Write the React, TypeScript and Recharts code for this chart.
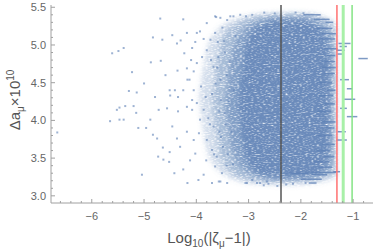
import React from 'react';
import {
  ComposedChart,
  Area,
  Scatter,
  XAxis,
  YAxis,
  ReferenceLine,
} from 'recharts';

// tick values
const xMajor = [-6, -5, -4, -3, -2, -1];
const xMinor = [
  -6.6, -6.4, -6.2, -5.8, -5.6, -5.4, -5.2, -4.8, -4.6, -4.4, -4.2, -3.8, -3.6,
  -3.4, -3.2, -2.8, -2.6, -2.4, -2.2, -1.8, -1.6, -1.4, -1.2, -0.8,
];
const yMajor = [3.0, 3.5, 4.0, 4.5, 5.0, 5.5];
const yMinor = [
  3.1, 3.2, 3.3, 3.4, 3.6, 3.7, 3.8, 3.9, 4.1, 4.2, 4.3, 4.4, 4.6, 4.7, 4.8,
  4.9, 5.1, 5.2, 5.3, 5.4,
];

// density layers of the point cloud (log10 x, lower, upper)
const layerAX = [-3.95, -3.8, -3.6, -3.4, -3.1, -2.7, -2.2, -1.8, -1.5, -1.32];
const layerALo = [4.3, 3.6, 3.35, 3.25, 3.18, 3.15, 3.14, 3.16, 3.2, 3.24];
const layerAHi = [4.3, 4.95, 5.2, 5.3, 5.38, 5.42, 5.43, 5.42, 5.36, 5.3];

const layerBX = [-3.7, -3.55, -3.4, -3.2, -2.9, -2.4, -2.0, -1.7, -1.5, -1.34];
const layerBLo = [4.25, 3.55, 3.35, 3.25, 3.2, 3.18, 3.19, 3.21, 3.25, 3.3];
const layerBHi = [4.25, 5.0, 5.2, 5.3, 5.37, 5.41, 5.41, 5.38, 5.32, 5.2];

const layerCX = [-3.45, -3.3, -3.1, -2.8, -2.4, -2.0, -1.75, -1.55, -1.4];
const layerCLo = [4.2, 3.55, 3.35, 3.25, 3.21, 3.22, 3.25, 3.3, 3.45];
const layerCHi = [4.2, 4.95, 5.2, 5.32, 5.37, 5.37, 5.33, 5.25, 5.05];

const layerDX = [-3.2, -3.05, -2.8, -2.4, -2.0, -1.8, -1.6, -1.48];
const layerDLo = [4.2, 3.5, 3.3, 3.25, 3.26, 3.28, 3.35, 3.6];
const layerDHi = [4.2, 5.0, 5.25, 5.32, 5.32, 5.28, 5.15, 4.9];

// individual points outside the dense core
const sparsePoints: [number, number][] = [
  [-6.66, 3.84], [-5.61, 4.89], [-5.49, 4.92], [-5.39, 4.96], [-5.29, 4.39], [-5.52, 4.14],
  [-5.47, 4.17], [-5.36, 4.19], [-5.65, 3.99], [-5.47, 4.01], [-5.39, 4.01],
  [-4.69, 5.35], [-4.25, 5.34], [-4.83, 5.1], [-4.65, 5.07], [-4.87, 4.77], [-4.68, 4.79],
  [-4.46, 5.13], [-4.37, 5.02], [-4.3, 5.06], [-4.18, 5.16], [-5.23, 4.64], [-5.0, 4.49],
  [-5.14, 4.37], [-4.72, 4.14], [-4.59, 4.6], [-4.51, 4.4], [-4.41, 4.4], [-4.5, 4.33],
  [-4.35, 4.31], [-4.35, 4.12], [-4.56, 4.16], [-4.79, 4.31], [-4.18, 4.18], [-4.08, 4.27],
  [-4.05, 4.4], [-4.13, 4.54], [-4.18, 4.69], [-4.36, 4.66], [-4.23, 4.89], [-4.08, 4.96],
  [-4.1, 4.8], [-4.02, 5.04], [-3.99, 5.16], [-3.93, 5.18], [-3.86, 5.08], [-3.8, 5.29],
  [-3.62, 5.37], [-3.5, 5.23], [-3.41, 5.33], [-3.35, 5.38], [-3.29, 5.38],
  [-5.2, 4.19], [-5.15, 4.1], [-5.11, 3.9], [-4.96, 3.9], [-5.04, 3.28], [-4.88, 4.01],
  [-4.83, 3.81], [-4.75, 3.76], [-4.64, 3.64], [-4.73, 3.52], [-4.63, 3.48], [-4.52, 3.45],
  [-4.42, 3.3], [-4.51, 3.58], [-4.46, 3.92], [-4.37, 3.76], [-4.31, 3.65], [-4.25, 3.35],
  [-4.17, 3.17], [-3.96, 3.21], [-3.86, 3.28], [-3.7, 3.17], [-3.57, 3.19], [-3.41, 3.17],
  [-4.12, 3.47], [-4.02, 3.56], [-4.05, 3.74], [-4.18, 3.85], [-3.95, 3.83], [-3.93, 4.01],
  [-3.99, 4.23], [-4.08, 4.14], [-4.25, 4.4], [-4.17, 4.54], [-4.05, 4.65], [-3.99, 4.76],
  [-3.89, 4.84], [-3.8, 4.93], [-3.73, 5.07], [-3.64, 5.16], [-3.59, 5.04], [-3.91, 4.45],
  [-3.82, 4.31], [-3.86, 4.14], [-3.77, 4.03], [-3.8, 3.74], [-3.7, 3.61], [-3.81, 3.47],
  [-3.64, 3.39], [-3.61, 3.52], [-3.67, 3.92], [-3.63, 4.49], [-3.67, 4.71], [-3.58, 4.84],
  [-3.54, 4.54], [-3.53, 4.27], [-3.53, 3.78], [-3.49, 3.65], [-3.51, 3.3],
  [-3.54, 3.19], [-3.03, 3.17], [-2.78, 3.17], [-2.71, 3.14], [-2.65, 3.19], [-2.28, 3.15],
  [-1.91, 3.17], [-2.93, 3.21], [-2.84, 3.17], [-2.62, 3.16], [-3.06, 3.17], [-2.45, 3.13],
  [-2.15, 3.16],
  [-3.64, 5.38], [-3.54, 5.36], [-3.16, 5.4], [-3.05, 5.38], [-2.93, 5.4], [-2.7, 5.43],
  [-2.5, 5.42], [-2.1, 5.43], [-1.95, 5.42],
  [-3.45, 4.9], [-3.42, 4.6], [-3.38, 4.25], [-3.44, 3.95], [-3.4, 3.55], [-3.3, 3.42],
  [-3.33, 3.85], [-3.28, 4.4], [-3.25, 5.12], [-3.47, 5.05], [-3.36, 4.78], [-3.46, 4.1],
  [-3.42, 3.4], [-3.56, 4.12], [-3.6, 4.7], [-3.56, 3.85], [-3.7, 4.35], [-3.72, 4.8],
  [-3.74, 3.95], [-3.66, 3.55],
];

// horizontal streaks on the right side: [from, to, y]
const streaks: [number, number, number][] = [
  [-1.95, -1.62, 5.4], [-1.75, -1.45, 5.34], [-1.53, -1.38, 5.3], [-1.7, -1.4, 5.22],
  [-1.6, -1.33, 5.15], [-1.65, -1.35, 5.08], [-1.28, -1.05, 5.02], [-1.26, -1.12, 4.98],
  [-0.9, -0.72, 4.82], [-1.3, -1.2, 4.88], [-1.32, -1.16, 4.93], [-1.55, -1.3, 4.95],
  [-1.5, -1.34, 4.86], [-1.6, -1.35, 4.78], [-1.25, -1.08, 4.54], [-1.12, -1.02, 4.42],
  [-1.18, -0.96, 4.28], [-1.25, -1.12, 4.16], [-1.12, -0.92, 4.05], [-1.3, -1.14, 3.85],
  [-1.32, -1.12, 3.74], [-1.38, -1.25, 3.32], [-1.6, -1.33, 4.7], [-1.55, -1.35, 4.62],
  [-1.7, -1.4, 4.5], [-1.5, -1.34, 4.4], [-1.65, -1.38, 4.33], [-1.55, -1.35, 4.22],
  [-1.7, -1.42, 4.12], [-1.6, -1.34, 3.98], [-1.52, -1.36, 3.9], [-1.68, -1.4, 3.8],
  [-1.6, -1.35, 3.68], [-1.7, -1.45, 3.6], [-1.55, -1.36, 3.52], [-1.75, -1.46, 3.45],
  [-1.65, -1.4, 3.38], [-1.8, -1.5, 3.28], [-2.0, -1.6, 3.22], [-1.85, -1.7, 3.17],
  [-1.8, -1.33, 3.31], [-2.3, -1.85, 3.3],
];

// vertical marker lines
const markerX = [-2.38, -1.31, -1.19, -1.02];
const markerColor = ['#555555', '#ff7070', '#a8f0a8', '#84e484'];
const markerWidth = [1.5, 1.5, 3, 1.5];

const BLUE = '#5e81b5';
const FRAME = '#a0a0a0';
const LABEL = '#666666';
const FONT = '"Liberation Sans", Arial, sans-serif';

const band = (xs: number[], lo: number[], hi: number[]) =>
  xs.map((x, i) => ({ x, band: [lo[i], hi[i]] }));

const layers = [
  { data: band(layerAX, layerALo, layerAHi), opacity: 0.27 },
  { data: band(layerBX, layerBLo, layerBHi), opacity: 0.36 },
  { data: band(layerCX, layerCLo, layerCHi), opacity: 0.5 },
  { data: band(layerDX, layerDLo, layerDHi), opacity: 0.68 },
];

const fmtNum = (v: number, digits: number) =>
  v.toFixed(digits).replace('-', '\u2212');

const BottomTick = (props: any) => {
  const { x, y, payload } = props;
  const major = xMajor.includes(payload.value);
  return (
    <g>
      <line x1={x} x2={x} y1={y} y2={y - (major ? 4 : 2)} stroke={FRAME} />
      {major && (
        <text x={x} y={y + 16.5} textAnchor="middle" fontSize={11} fill={LABEL} fontFamily={FONT}>
          {fmtNum(payload.value, 0)}
        </text>
      )}
    </g>
  );
};

const TopTick = (props: any) => {
  const { x, y, payload } = props;
  const major = xMajor.includes(payload.value);
  return <line x1={x} x2={x} y1={y} y2={y + (major ? 4 : 2)} stroke={FRAME} />;
};

const LeftTick = (props: any) => {
  const { x, y, payload } = props;
  const major = yMajor.includes(payload.value);
  return (
    <g>
      <line x1={x} x2={x + (major ? 4 : 2)} y1={y} y2={y} stroke={FRAME} />
      {major && (
        <text x={x - 5} y={y + 4} textAnchor="end" fontSize={11} fill={LABEL} fontFamily={FONT}>
          {fmtNum(payload.value, 1)}
        </text>
      )}
    </g>
  );
};

const RightTick = (props: any) => {
  const { x, y, payload } = props;
  const major = yMajor.includes(payload.value);
  return <line x1={x} x2={x - (major ? 4 : 2)} y1={y} y2={y} stroke={FRAME} />;
};

const Dot = (props: any) => {
  const { cx, cy } = props;
  return <rect x={cx - 1} y={cy - 1} width={2} height={2} fill={BLUE} fillOpacity={0.6} />;
};

export default function App() {
  const points = sparsePoints.map(([x, y]) => ({ x, y }));
  const xDomain: [number, number] = [-6.78, -0.62];
  const yDomain: [number, number] = [2.905, 5.53];
  const xTicks = [...xMajor, ...xMinor];
  const yTicks = [...yMajor, ...yMinor];

  return (
    <div style={{ position: 'absolute', left: 0, top: 0, width: 374, height: 250, background: '#fff' }}>
      <svg width={0} height={0} style={{ position: 'absolute' }}>
        <defs>
          <filter id="cloudSoft" x="-20%" y="-20%" width="140%" height="140%">
            <feGaussianBlur in="SourceGraphic" stdDeviation="2.5" result="soft" />
            <feTurbulence type="fractalNoise" baseFrequency="0.35 1.1" numOctaves="1" seed="3" result="noise" />
            <feColorMatrix
              in="noise"
              type="matrix"
              values="0 0 0 0 0  0 0 0 0 0  0 0 0 0 0  2.6 0 0 0 -0.4"
              result="mask"
            />
            <feComposite in="soft" in2="mask" operator="in" />
          </filter>
        </defs>
      </svg>
      <ComposedChart width={374} height={250} margin={{ top: 5, right: 1, bottom: 0, left: 0 }}>
        <XAxis
          dataKey="x"
          type="number"
          domain={xDomain}
          allowDataOverflow
          ticks={xTicks}
          interval={0}
          height={47}
          tickSize={0}
          tickMargin={0}
          tickLine={false}
          axisLine={{ stroke: FRAME }}
          tick={<BottomTick />}
        />
        <XAxis
          xAxisId="top"
          orientation="top"
          type="number"
          domain={xDomain}
          allowDataOverflow
          ticks={xTicks}
          interval={0}
          height={0}
          tickSize={0}
          tickMargin={0}
          tickLine={false}
          axisLine={{ stroke: FRAME }}
          tick={<TopTick />}
        />
        <YAxis
          dataKey="y"
          type="number"
          domain={yDomain}
          allowDataOverflow
          ticks={yTicks}
          interval={0}
          width={51}
          tickSize={0}
          tickMargin={0}
          tickLine={false}
          axisLine={{ stroke: FRAME }}
          tick={<LeftTick />}
        />
        <YAxis
          yAxisId="right"
          orientation="right"
          type="number"
          domain={yDomain}
          allowDataOverflow
          ticks={yTicks}
          interval={0}
          width={0}
          tickSize={0}
          tickMargin={0}
          tickLine={false}
          axisLine={{ stroke: FRAME }}
          tick={<RightTick />}
        />
        {layers.map((layer, i) => (
          <Area
            key={'a' + i}
            data={layer.data}
            dataKey="band"
            type="monotone"
            stroke="none"
            fill={BLUE}
            fillOpacity={layer.opacity}
            filter="url(#cloudSoft)"
            dot={false}
            activeDot={false}
            isAnimationActive={false}
          />
        ))}
        <Scatter data={points} dataKey="y" shape={<Dot />} isAnimationActive={false} />
        {streaks.map(([x0, x1, y], i) => (
          <ReferenceLine
            key={'s' + i}
            segment={[{ x: x0, y }, { x: x1, y }]}
            stroke={BLUE}
            strokeOpacity={0.8}
            strokeWidth={1.5}
          />
        ))}
        {markerX.map((x, i) => (
          <ReferenceLine
            key={'m' + i}
            x={x}
            stroke={markerColor[i]}
            strokeWidth={markerWidth[i]}
          />
        ))}
      </ComposedChart>
      <svg
        width={374}
        height={250}
        style={{ position: 'absolute', left: 0, top: 0, pointerEvents: 'none' }}
        fontFamily={FONT}
      >
        <text x={209} y={243} textAnchor="middle" fontSize={15} fill="#555">
          Log
          <tspan fontSize={10} dy={4}>10</tspan>
          <tspan dy={-4}>(|ζ</tspan>
          <tspan fontSize={10} dy={4}>μ</tspan>
          <tspan dy={-4}>−1|)</tspan>
        </text>
        <text transform="translate(20,100) rotate(-90)" textAnchor="middle" fontSize={15} fill="#555">
          Δa
          <tspan fontSize={10} dy={4}>μ</tspan>
          <tspan dy={-4}>×10</tspan>
          <tspan fontSize={10} dy={-6}>10</tspan>
        </text>
      </svg>
    </div>
  );
}
